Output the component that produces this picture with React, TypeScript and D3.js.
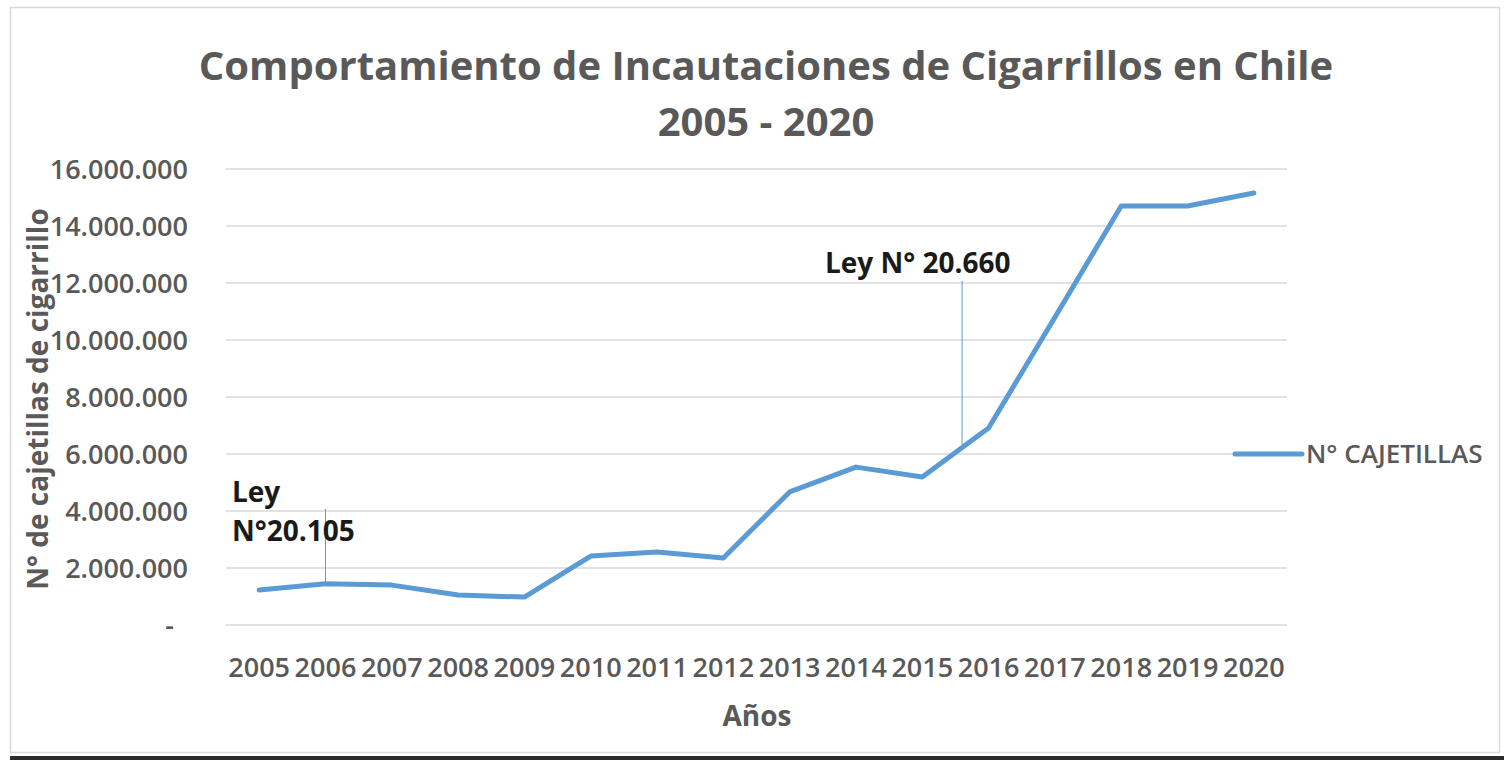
import React from "react";
import { useEffect, useRef } from "react";
import * as d3 from "d3";

// Chart data
const years = [
  "2005", "2006", "2007", "2008", "2009", "2010", "2011", "2012",
  "2013", "2014", "2015", "2016", "2017", "2018", "2019", "2020",
];
const cajetillas = [
  1230000, 1450000, 1400000, 1050000, 980000, 2420000, 2560000, 2350000,
  4670000, 5540000, 5190000, 6910000, 10800000, 14700000, 14700000, 15160000,
];
const yTicks = [0, 2000000, 4000000, 6000000, 8000000, 10000000, 12000000, 14000000, 16000000];
const seriesName = "N° CAJETILLAS";
const titleLines = ["Comportamiento de Incautaciones de Cigarrillos en Chile", "2005 - 2020"];
const laws = [
  { lines: ["Ley", "N°20.105"], at: 1, top: 4000000 },
  { lines: ["Ley N° 20.660"], at: 10.6, top: 12000000 },
];

const App: React.FC = () => {
  const svgRef = useRef<SVGSVGElement | null>(null);
  const W = 1504;
  const H = 760;
  const margin = { top: 169, right: 217, bottom: 135, left: 226 }; // plot area
  const width = W - margin.left - margin.right;
  const height = H - margin.top - margin.bottom;
  const grey = "#595959";
  const lineColor = "#5b9bd5";
  const font = "'Open Sans', sans-serif";

  useEffect(() => {
    if (!svgRef.current) return;
    const svg = d3.select(svgRef.current);
    svg.selectAll("*").remove();

    // background + frame
    svg.append("rect").attr("width", W).attr("height", H).attr("fill", "#fff");
    svg
      .append("rect")
      .attr("x", 10.5)
      .attr("y", 7.5)
      .attr("width", 1489)
      .attr("height", 745)
      .attr("fill", "none")
      .attr("stroke", "#d9d9d9")
      .attr("stroke-width", 1.5);
    svg.append("rect").attr("x", 10).attr("y", 756).attr("width", W - 10).attr("height", 4).attr("fill", "#2b2b2b");

    const x = d3.scaleBand().domain(years).range([0, width]);
    const y = d3.scaleLinear().domain([0, 16000000]).range([height, 0]);
    const cx = (i: number) => (x(years[0]) as number) + x.step() * i + x.bandwidth() / 2;

    const chart = svg.append("g").attr("transform", `translate(${margin.left},${margin.top})`);

    // grid
    chart
      .selectAll(".grid")
      .data(yTicks)
      .enter()
      .append("line")
      .attr("x1", 0)
      .attr("x2", width)
      .attr("y1", (d) => y(d))
      .attr("y2", (d) => y(d))
      .attr("stroke", "#d9d9d9")
      .attr("stroke-width", 1.5);

    // y labels
    const fmt = (v: number) => (v === 0 ? "-" : d3.format(",")(v).replace(/,/g, "."));
    chart
      .selectAll(".ylab")
      .data(yTicks)
      .enter()
      .append("text")
      .attr("x", (d) => (d === 0 ? -52 : -38))
      .attr("y", (d) => y(d))
      .attr("dy", "0.36em")
      .attr("text-anchor", "end")
      .attr("fill", grey)
      .style("font", `600 27px ${font}`)
      .text(fmt);

    // x labels
    chart
      .selectAll(".xlab")
      .data(years)
      .enter()
      .append("text")
      .attr("x", (d) => (x(d) as number) + x.bandwidth() / 2)
      .attr("y", height + 52)
      .attr("text-anchor", "middle")
      .attr("fill", grey)
      .style("font", `600 27px ${font}`)
      .text((d) => d);

    // law annotations
    laws.forEach((l) => {
      const lx = cx(l.at);
      const i0 = Math.floor(l.at);
      const i1 = Math.min(i0 + 1, years.length - 1);
      const v = cajetillas[i0] + (cajetillas[i1] - cajetillas[i0]) * (l.at - i0);
      chart
        .append("line")
        .attr("x1", lx)
        .attr("x2", lx)
        .attr("y1", y(l.top) - 2)
        .attr("y2", y(v))
        .attr("stroke", lineColor)
        .attr("stroke-width", 1);
    });
    svg
      .append("text")
      .attr("x", 233)
      .style("font", `bold 28px ${font}`)
      .attr("fill", "#1a1a1a")
      .selectAll("tspan")
      .data(laws[0].lines)
      .enter()
      .append("tspan")
      .attr("x", 232)
      .attr("y", (_d, i) => 502 + i * 39)
      .text((d) => d);
    svg
      .append("text")
      .attr("x", 825)
      .attr("y", 273)
      .style("font", `bold 28px ${font}`)
      .attr("fill", "#1a1a1a")
      .text(laws[1].lines[0]);

    // series line
    const line = d3
      .line<number>()
      .x((_d, i) => cx(i))
      .y((d) => y(d));
    chart
      .append("path")
      .datum(cajetillas)
      .attr("fill", "none")
      .attr("stroke", lineColor)
      .attr("stroke-width", 5)
      .attr("stroke-linejoin", "round")
      .attr("stroke-linecap", "round")
      .attr("d", line);

    // titles
    svg
      .append("text")
      .attr("text-anchor", "middle")
      .attr("fill", grey)
      .style("font", `bold 40px ${font}`)
      .selectAll("tspan")
      .data(titleLines)
      .enter()
      .append("tspan")
      .attr("x", 766)
      .attr("y", (_d, i) => 80 + i * 56)
      .text((d) => d);

    svg
      .append("text")
      .attr("transform", `translate(48,${margin.top + y(8000000) + 2}) rotate(-90)`)
      .attr("text-anchor", "middle")
      .attr("fill", grey)
      .style("font", `bold 28px ${font}`)
      .text("N° de cajetillas de cigarrillo");

    svg
      .append("text")
      .attr("x", 757)
      .attr("y", 726)
      .attr("text-anchor", "middle")
      .attr("fill", grey)
      .style("font", `bold 28px ${font}`)
      .text("Años");

    // legend
    const legend = svg.append("g").attr("transform", `translate(1235,${margin.top + y(6000000)})`);
    legend
      .append("line")
      .attr("x1", 0)
      .attr("x2", 67)
      .attr("stroke", lineColor)
      .attr("stroke-width", 5)
      .attr("stroke-linecap", "round");
    legend
      .append("text")
      .attr("x", 71)
      .attr("dy", "0.36em")
      .attr("fill", grey)
      .style("font", `600 26px ${font}`)
      .text(seriesName);
  }, []);

  return (
    <svg
      ref={svgRef}
      width={W}
      height={H}
      style={{ position: "absolute", left: 0, top: 0 }}
    ></svg>
  );
};

export default App;
